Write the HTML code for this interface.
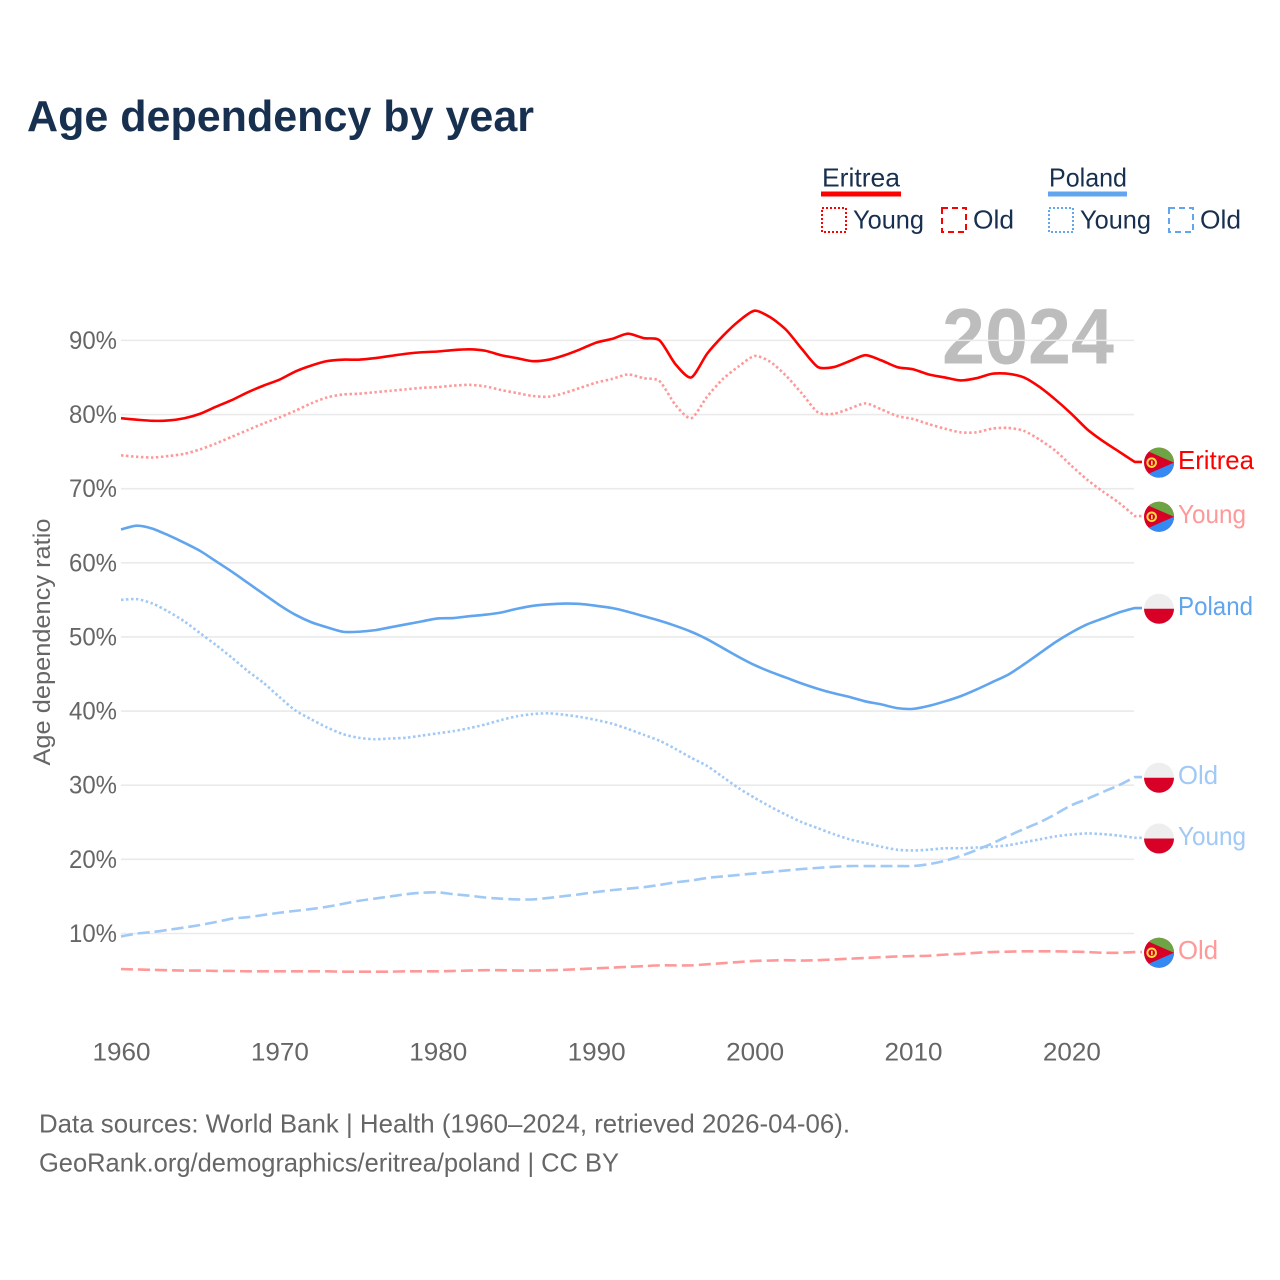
<!DOCTYPE html>
<html lang="en">
<head>
<meta charset="utf-8">
<title>Age dependency by year</title>
<style>
html,body{margin:0;padding:0;background:#fff;width:1280px;height:1280px;overflow:hidden}
svg{display:block;font-family:"Liberation Sans",sans-serif}
</style>
</head>
<body>
<svg id="chart" width="1280" height="1280" viewBox="0 0 1280 1280" xmlns="http://www.w3.org/2000/svg">
  <text x="27" y="131" font-size="44" font-weight="700" fill="#18304f" textLength="507" lengthAdjust="spacingAndGlyphs">Age dependency by year</text>

  <g fill="#18304f" font-size="26">
    <text x="822" y="186.5" textLength="78" lengthAdjust="spacingAndGlyphs">Eritrea</text>
    <rect x="821" y="191.5" width="80" height="5" fill="#ff0000"/>
    <rect x="822" y="208" width="24" height="24" fill="none" stroke="#ff0000" stroke-width="2" stroke-dasharray="2 2"/>
    <text x="853" y="228.5" textLength="71" lengthAdjust="spacingAndGlyphs">Young</text>
    <rect x="942" y="208" width="24" height="24" fill="none" stroke="#ff0000" stroke-width="2" stroke-dasharray="6 4"/>
    <text x="973" y="228.5" textLength="41" lengthAdjust="spacingAndGlyphs">Old</text>

    <text x="1049" y="186.5" textLength="78" lengthAdjust="spacingAndGlyphs">Poland</text>
    <rect x="1048" y="191.5" width="79" height="5" fill="#60a5ee"/>
    <rect x="1049" y="208" width="24" height="24" fill="none" stroke="#60a5ee" stroke-width="2" stroke-dasharray="2 2"/>
    <text x="1080" y="228.5" textLength="71" lengthAdjust="spacingAndGlyphs">Young</text>
    <rect x="1169" y="208" width="24" height="24" fill="none" stroke="#60a5ee" stroke-width="2" stroke-dasharray="6 4"/>
    <text x="1200" y="228.5" textLength="41" lengthAdjust="spacingAndGlyphs">Old</text>
  </g>

  <text x="942" y="363.5" font-size="79" font-weight="700" fill="#bdbdbd" textLength="172" lengthAdjust="spacingAndGlyphs">2024</text>

  <g id="grid"></g>
  <g id="yticks"></g>
  <g id="xticks"></g>
  <text transform="translate(50,642) rotate(-90)" text-anchor="middle" font-size="24" fill="#666666" textLength="247" lengthAdjust="spacingAndGlyphs">Age dependency ratio</text>
  <g id="series"></g>
  <g id="ends"></g>

  <g font-size="26" fill="#666666">
    <text x="39" y="1132.5" textLength="811" lengthAdjust="spacingAndGlyphs">Data sources: World Bank | Health (1960–2024, retrieved 2026-04-06).</text>
    <text x="39" y="1171.5" textLength="580" lengthAdjust="spacingAndGlyphs">GeoRank.org/demographics/eritrea/poland | CC BY</text>
  </g>
</svg>

<script>
const startYear = 1960;
const xTickYears = [1960, 1970, 1980, 1990, 2000, 2010, 2020];
const yTickValues = [10, 20, 30, 40, 50, 60, 70, 80, 90];

const eritreaTotal = [
  79.5,79.3,79.15,79.2,79.5,80.1,81.05,81.95,83.0,83.9,
  84.7,85.8,86.6,87.2,87.4,87.4,87.6,87.9,88.2,88.4,
  88.5,88.7,88.8,88.6,88.0,87.6,87.2,87.4,88.0,88.8,
  89.7,90.2,90.9,90.3,90.0,86.8,85.0,88.2,90.6,92.6,
  94.0,93.1,91.4,88.8,86.4,86.4,87.2,88.0,87.3,86.4,
  86.1,85.4,85.0,84.6,84.9,85.5,85.5,85.0,83.7,82.0,
  80.1,78.0,76.4,75.0,73.6
];
const eritreaYoung = [
  74.5,74.3,74.2,74.4,74.7,75.3,76.1,77.0,77.9,78.8,
  79.6,80.5,81.5,82.3,82.7,82.8,83.0,83.2,83.4,83.6,
  83.7,83.9,84.0,83.8,83.3,82.9,82.5,82.4,82.9,83.6,
  84.3,84.8,85.4,84.9,84.5,81.3,79.5,82.4,84.8,86.5,
  87.9,87.1,85.2,82.8,80.3,80.1,80.8,81.5,80.7,79.8,
  79.4,78.7,78.1,77.6,77.6,78.1,78.2,77.8,76.6,75.1,
  73.1,71.2,69.6,68.1,66.3
];
const eritreaOld = [
  5.2,5.15,5.1,5.05,5.0,5.0,4.95,4.95,4.9,4.9,
  4.9,4.9,4.9,4.9,4.85,4.85,4.85,4.85,4.9,4.9,
  4.9,4.95,5.0,5.05,5.05,5.0,5.0,5.05,5.1,5.2,
  5.3,5.4,5.5,5.6,5.7,5.7,5.7,5.85,6.0,6.15,
  6.3,6.35,6.4,6.35,6.4,6.5,6.6,6.7,6.8,6.9,
  6.95,7.0,7.15,7.25,7.4,7.5,7.55,7.6,7.6,7.6,
  7.55,7.5,7.4,7.4,7.5
];
const polandTotal = [
  64.5,65.0,64.6,63.7,62.7,61.6,60.2,58.8,57.3,55.8,
  54.3,53.0,52.0,51.3,50.7,50.7,50.9,51.3,51.7,52.1,
  52.5,52.55,52.8,53.0,53.3,53.8,54.2,54.4,54.5,54.45,
  54.2,53.9,53.4,52.8,52.2,51.5,50.7,49.7,48.5,47.3,
  46.2,45.3,44.5,43.7,43.0,42.4,41.9,41.3,40.9,40.4,
  40.3,40.7,41.3,42.0,42.9,43.9,44.9,46.3,47.8,49.3,
  50.6,51.7,52.5,53.3,53.9
];
const polandYoung = [
  55.0,55.1,54.5,53.4,52.1,50.5,48.9,47.2,45.4,43.8,
  41.9,40.1,38.9,37.8,36.9,36.4,36.2,36.3,36.4,36.7,
  37.0,37.3,37.7,38.2,38.8,39.3,39.6,39.7,39.5,39.2,
  38.8,38.3,37.6,36.8,36.0,34.9,33.7,32.6,31.1,29.6,
  28.3,27.1,26.0,25.0,24.2,23.4,22.7,22.2,21.7,21.3,
  21.2,21.3,21.5,21.5,21.6,21.7,21.9,22.3,22.7,23.1,
  23.35,23.5,23.4,23.2,22.9
];
const polandOld = [
  9.6,10.0,10.2,10.5,10.8,11.15,11.55,12.0,12.2,12.5,
  12.8,13.05,13.3,13.6,14.0,14.4,14.7,15.0,15.3,15.5,
  15.55,15.3,15.1,14.85,14.7,14.6,14.6,14.8,15.05,15.3,
  15.6,15.85,16.05,16.25,16.55,16.9,17.15,17.5,17.7,17.9,
  18.1,18.3,18.5,18.7,18.85,19.0,19.1,19.1,19.1,19.1,
  19.1,19.35,19.8,20.45,21.25,22.15,23.15,24.1,25.0,26.1,
  27.3,28.15,29.1,30.0,31.1
];

const NS = 'http://www.w3.org/2000/svg';
function xScale(year) { return 121 + (year - 1960) * 15.84; }
function yScale(value) { return 933.5 - (value - 10) * 7.414; }

function make(tag, attrs, parent, text) {
  const el = document.createElementNS(NS, tag);
  for (const k in attrs) el.setAttribute(k, attrs[k]);
  if (text !== undefined) el.textContent = text;
  parent.appendChild(el);
  return el;
}

const gridG = document.getElementById('grid');
const yG = document.getElementById('yticks');
const xG = document.getElementById('xticks');
const seriesG = document.getElementById('series');
const endsG = document.getElementById('ends');

yTickValues.forEach(function (v) {
  const line = make('line', {x1: 121, x2: 1134, y1: yScale(v), y2: yScale(v), stroke: '#eaeaea', 'stroke-width': 1.6}, gridG);
  
  
  const t = make('text', {x: 117, y: yScale(v) + 8.5, 'text-anchor': 'end', 'font-size': 25, fill: '#666666', textLength: 48, lengthAdjust: 'spacingAndGlyphs'}, yG, v + '%');
  
  
});

xTickYears.forEach(function (y) {
  const t = make('text', {x: xScale(y) + 0.5, y: 1060.5, 'text-anchor': 'middle', 'font-size': 25, fill: '#666666', textLength: 58, lengthAdjust: 'spacingAndGlyphs'}, xG, String(y));
  
  
});

function smoothPath(pts) {
  let d = 'M' + pts[0][0].toFixed(2) + ',' + pts[0][1].toFixed(2);
  for (let i = 0; i < pts.length - 1; i++) {
    const p0 = pts[Math.max(i - 1, 0)];
    const p1 = pts[i];
    const p2 = pts[i + 1];
    const p3 = pts[Math.min(i + 2, pts.length - 1)];
    const c1x = p1[0] + (p2[0] - p0[0]) / 8;
    const c1y = p1[1] + (p2[1] - p0[1]) / 8;
    const c2x = p2[0] - (p3[0] - p1[0]) / 8;
    const c2y = p2[1] - (p3[1] - p1[1]) / 8;
    d += 'C' + c1x.toFixed(2) + ',' + c1y.toFixed(2) + ' ' + c2x.toFixed(2) + ',' + c2y.toFixed(2) + ' ' + p2[0].toFixed(2) + ',' + p2[1].toFixed(2);
  }
  return d;
}

function drawLine(values, color, dash, name) {
  const pts = values.map(function (v, i) {
    return [xScale(startYear + i), yScale(v)];
  });
  let d = smoothPath(pts);
  d += 'L1142,' + pts[pts.length - 1][1].toFixed(2);
  const attrs = {d: d, fill: 'none', stroke: color, 'stroke-width': 2.6, 'stroke-linejoin': 'round'};
  if (dash) attrs['stroke-dasharray'] = dash;
  const el = make('path', attrs, seriesG);
  
  
}

function eritreaFlag(value, name) {
  const cy = yScale(value) + 0.7;
  const g = make('g', {transform: 'translate(1159,' + cy.toFixed(2) + ')'}, endsG);
  
  
  make('circle', {r: 15, fill: '#d80027'}, g);
  make('path', {d: 'M-10.2,-11 A15,15 0 0 1 15,0 Z', fill: '#6da544'}, g);
  make('path', {d: 'M-10.2,11 A15,15 0 0 0 15,0 Z', fill: '#338af3'}, g);
  make('circle', {cx: -7.3, cy: 0, r: 4.3, fill: 'none', stroke: '#ffda44', 'stroke-width': 2}, g);
  make('rect', {x: -8, y: -2, width: 1.7, height: 4.5, fill: '#ffda44'}, g);
}

function polandFlag(value, name) {
  const cy = yScale(value) + 0.7;
  const g = make('g', {transform: 'translate(1159,' + cy.toFixed(2) + ')'}, endsG);
  
  
  make('circle', {r: 15, fill: '#eeeeee'}, g);
  make('path', {d: 'M-15,0 A15,15 0 0 0 15,0 Z', fill: '#d80027'}, g);
}

function endLabel(values, color, label, width, name) {
  const cy = yScale(values[values.length - 1]);
  const t = make('text', {x: 1178, y: cy + 7, 'font-size': 26, fill: color, textLength: width, lengthAdjust: 'spacingAndGlyphs'}, endsG, label);
  
  
}

drawLine(eritreaTotal, '#ff0000', null, 'line-eritrea-total');
drawLine(eritreaYoung, '#ff9999', '2.5 2.5', 'line-eritrea-young');
drawLine(eritreaOld, '#ff9999', '12 5', 'line-eritrea-old');
drawLine(polandTotal, '#60a5ee', null, 'line-poland-total');
drawLine(polandYoung, '#a0c9f5', '2.5 2.5', 'line-poland-young');
drawLine(polandOld, '#a0c9f5', '12 5', 'line-poland-old');

eritreaFlag(eritreaTotal[eritreaTotal.length - 1], 'flag-eritrea-total');
eritreaFlag(eritreaYoung[eritreaYoung.length - 1], 'flag-eritrea-young');
eritreaFlag(eritreaOld[eritreaOld.length - 1], 'flag-eritrea-old');
polandFlag(polandTotal[polandTotal.length - 1], 'flag-poland-total');
polandFlag(polandYoung[polandYoung.length - 1], 'flag-poland-young');
polandFlag(polandOld[polandOld.length - 1], 'flag-poland-old');

endLabel(eritreaTotal, '#ff0000', 'Eritrea', 76, 'end-label-eritrea');
endLabel(eritreaYoung, '#ff9999', 'Young', 68, 'end-label-eritrea-young');
endLabel(eritreaOld, '#ff9999', 'Old', 40, 'end-label-eritrea-old');
endLabel(polandTotal, '#60a5ee', 'Poland', 75, 'end-label-poland');
endLabel(polandYoung, '#a0c9f5', 'Young', 68, 'end-label-poland-young');
endLabel(polandOld, '#a0c9f5', 'Old', 40, 'end-label-poland-old');
</script>
</body>
</html>
